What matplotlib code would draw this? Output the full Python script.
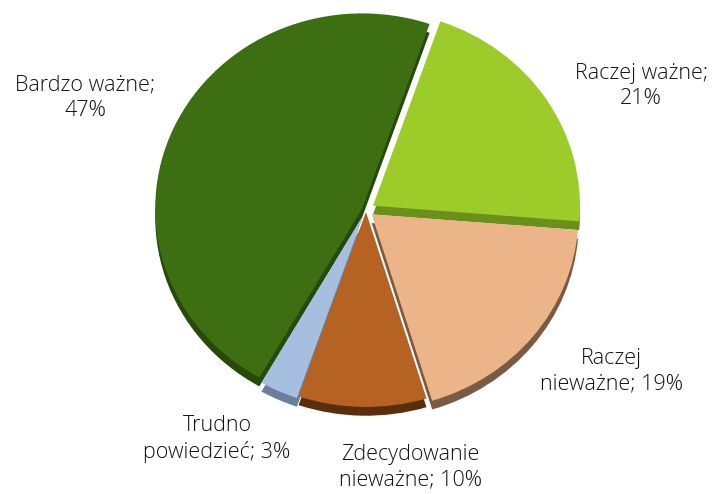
import matplotlib.pyplot as plt

labels = ['Raczej ważne', 'Raczej\nnieważne', 'Zdecydowanie\nnieważne', 'Trudno\npowiedzieć', 'Bardzo ważne']
values = [21, 19, 10, 3, 47]
colors = ['#9dcc2a', '#ebb489', '#b66223', '#a6bfe0', '#3d6e12']
side_colors = ['#6a8f1a', '#7a5a42', '#5a2e0c', '#6a7f9c', '#264a0a']
explode = [0.04, 0.035, 0.01, 0.02, 0.02]
label_pos = [(1.329, 0.636), (1.184, -0.826), (0.213, -1.318), (-0.720, -1.174), (-1.357, 0.574)]
label_text = ['Raczej ważne;\n21%', 'Raczej\nnieważne; 19%', 'Zdecydowanie\nnieważne; 10%',
              'Trudno\npowiedzieć; 3%', 'Bardzo ważne;\n47%']

fig = plt.figure(figsize=(7.15, 4.94), dpi=100)
ax = fig.add_axes([0, 0, 1, 1])

# darker copy shifted down gives the 3d side
ax.pie(values, colors=side_colors, startangle=71, counterclock=False,
       explode=explode, center=(0, -0.045), radius=1)
ax.pie(values, colors=colors, startangle=71, counterclock=False,
       explode=explode, center=(0, 0), radius=1)

for (x, y), t in zip(label_pos, label_text):
    ax.text(x, y, t, ha='center', va='center', fontsize=15.5, color='#111111',
            family='Open Sans', fontweight='light', linespacing=1.3)

ax.set_xlim(-366 / 207, (715 - 366) / 207)
ax.set_ylim(-(494 - 210) / 195, 210 / 195)
ax.set_aspect('auto')
ax.axis('off')

fig.savefig('out.png', dpi=100)
